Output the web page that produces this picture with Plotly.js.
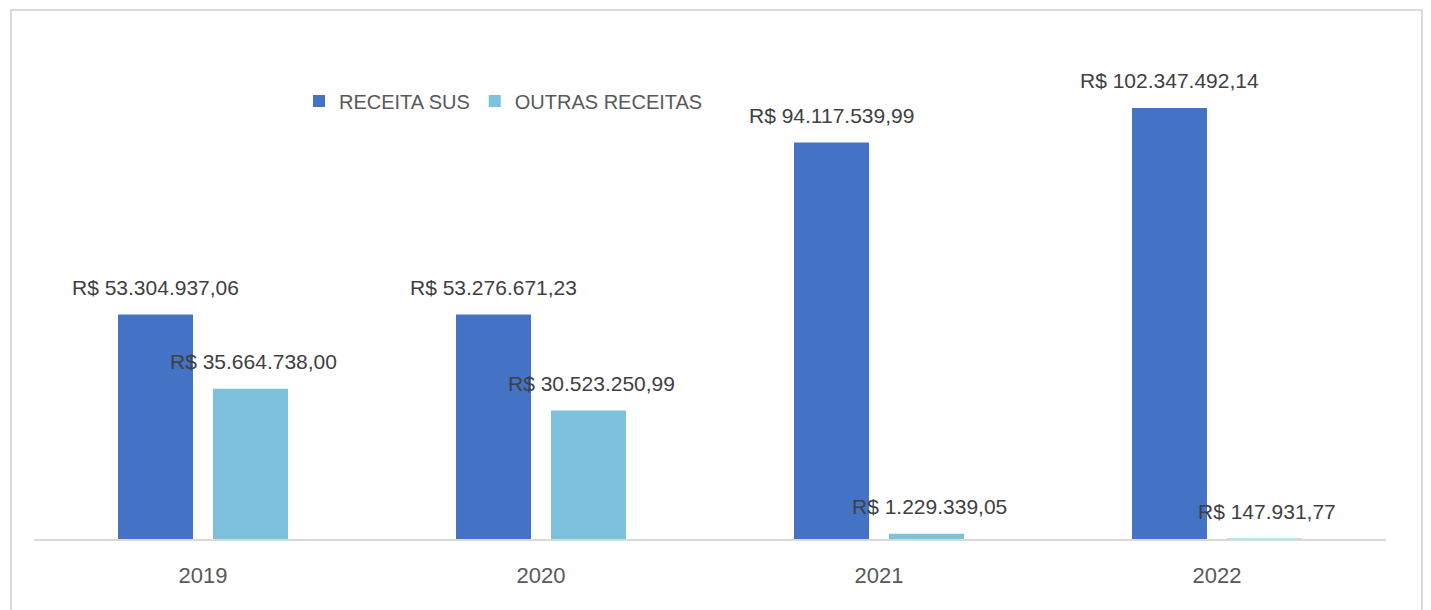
<!DOCTYPE html>
<html>
<head>
<meta charset="utf-8">
<script src="https://cdn.plot.ly/plotly-3.0.1.min.js"></script>
<style>
html,body{margin:0;padding:0;background:#fff;}
#chart{width:1431px;height:610px;}
</style>
</head>
<body>
<div id="chart"></div>
<script>
const years = ['2019', '2020', '2021', '2022'];
const receitaSus = [53304937.06, 53276671.23, 94117539.99, 102347492.14];
const outrasReceitas = [35664738.00, 30523250.99, 1229339.05, 147931.77];
const seriesNames = ['RECEITA SUS', 'OUTRAS RECEITAS'];

function fmtBRL(v) {
  const parts = v.toFixed(2).split('.');
  const intPart = parts[0].replace(/\B(?=(\d{3})+(?!\d))/g, '.');
  return 'R$ ' + intPart + ',' + parts[1];
}

const FONT = 'Liberation Sans, Arial, sans-serif';
const colors = ['#4472C4', '#7DC1DD'];

const traces = [
  {type: 'bar', name: seriesNames[0], x: years, y: receitaSus, marker: {color: colors[0]}, hoverinfo: 'none'},
  {type: 'bar', name: seriesNames[1], x: years, y: outrasReceitas, marker: {color: colors[1]}, hoverinfo: 'none'}
];

const bargap = 0.438;
const slot = (1 - bargap) / 2;
const annotations = [];
[receitaSus, outrasReceitas].forEach((arr, s) => {
  arr.forEach((v, i) => {
    annotations.push({
      x: i + (s === 0 ? -slot / 2 : slot / 2 + 0.008),
      y: v, xref: 'x', yref: 'y',
      text: fmtBRL(v), showarrow: false,
      yanchor: 'middle', yshift: 27,
      font: {family: FONT, size: 21, color: '#404040'}
    });
  });
});

const L = 34, R = 45, T = 50, B = 71;
const pw = 1431 - L - R, ph = 610 - T - B;
const px2x = p => (p - L) / pw;
const px2y = p => (610 - B - p) / ph;

const layout = {
  width: 1431, height: 610,
  margin: {l: L, r: R, t: T, b: B},
  paper_bgcolor: '#ffffff', plot_bgcolor: '#ffffff',
  barmode: 'group', bargap: bargap, bargroupgap: 0.2105,
  showlegend: true,
  legend: {
    orientation: 'h', x: px2x(299), y: px2y(101), xanchor: 'left', yanchor: 'middle',
    font: {family: FONT, size: 20, color: '#595959'}, bgcolor: 'rgba(0,0,0,0)'
  },
  xaxis: {
    type: 'category', showline: true, linecolor: '#d9d9d9', linewidth: 2,
    showgrid: false, zeroline: false, ticks: '', ticklabelstandoff: 16,
    tickfont: {family: FONT, size: 22, color: '#595959'}, fixedrange: true
  },
  yaxis: {
    range: [0, 116.1e6], visible: false, showgrid: false, zeroline: false, fixedrange: true
  },
  shapes: [{
    type: 'rect', xref: 'paper', yref: 'paper', layer: 'below',
    x0: px2x(11), x1: px2x(1422), y0: px2y(640), y1: px2y(10),
    line: {color: '#d9d9d9', width: 2}, fillcolor: 'rgba(0,0,0,0)'
  }],
  annotations: annotations
};

Plotly.newPlot('chart', traces, layout, {displayModeBar: false, staticPlot: true});
</script>
</body>
</html>
